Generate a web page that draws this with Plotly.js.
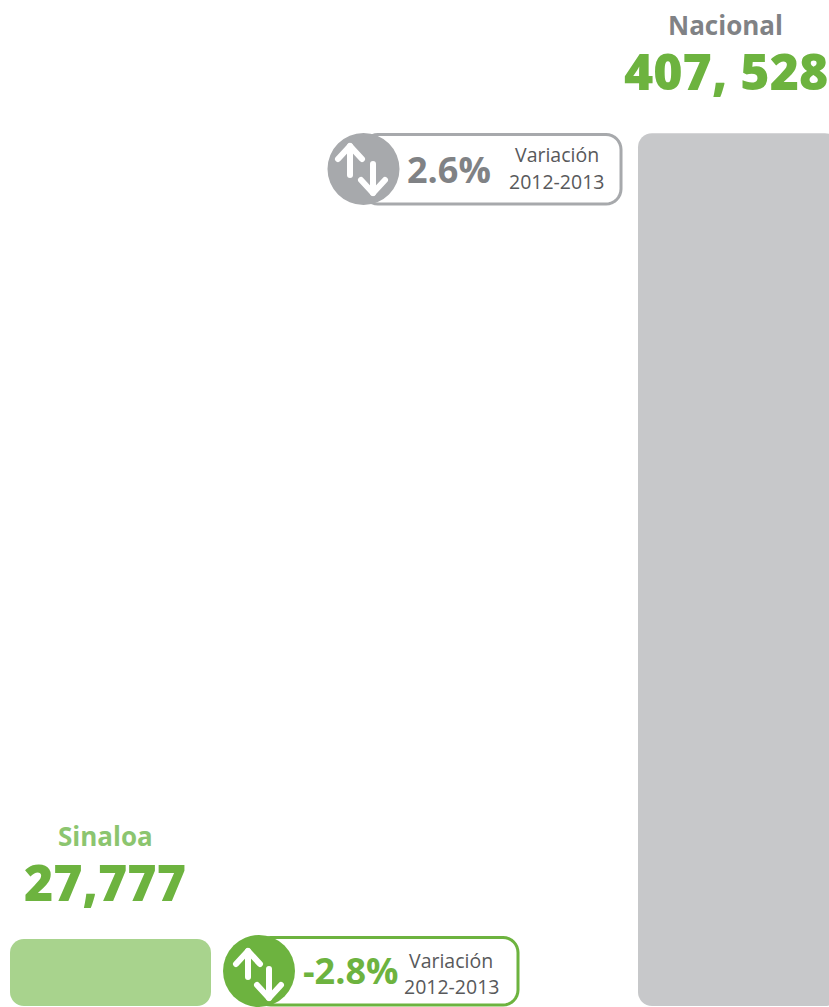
<!DOCTYPE html>
<html><head><meta charset="utf-8">
<script src="https://cdn.plot.ly/plotly-3.0.1.min.js"></script>
<style>html,body{margin:0;padding:0;background:#fff;overflow:hidden}#c{width:829px;height:1007px}</style>
</head><body><div id="c"></div>
<script>
const categories = ['Sinaloa', 'Nacional'];
const totals = ['27,777', '407, 528'];
// Bar lengths as drawn in the picture (the source graphic is not strictly to scale for Sinaloa).
const barLengths = [31280, 407528];
const barBases = [0, 0];
const variations = ['-2.8%', '2.6%'];
const variationLabel = 'Variación';
const periodLabel = '2012-2013';
const barColors = ['#a8d38d', '#c7c8ca'];
const nameColors = ['#8cc56f', '#808285'];
const accentColors = ['#6db33f', '#a7a9ac'];
const variationColors = ['#6db33f', '#808285'];
const totalColor = '#6db33f';

const W = 829, H = 1007;
const px = x => (x / W).toFixed(5), py = y => (1 - y / H).toFixed(5);

const barWidth = 201 / 628;
// An explicit base makes Plotly round both ends of each bar.
const bars = {type:'bar', x:categories, y:barLengths, base:barBases,
  marker:{color:barColors, cornerradius:14, line:{width:0}}, width:barWidth, hoverinfo:'skip'};

function roundRect(x0,y0,x1,y1,r){
  const n=8, pts=[];
  [[x1-r,y0+r,-90],[x1-r,y1-r,0],[x0+r,y1-r,90],[x0+r,y0+r,180]].forEach(([cx,cy,a])=>{
    for(let i=0;i<=n;i++){const t=(a+90*i/n)*Math.PI/180;pts.push([cx+r*Math.cos(t),cy+r*Math.sin(t)]);}
  });
  return 'M'+pts.map(p=>px(p[0])+','+py(p[1])).join('L')+'Z';
}
const line = pts => 'M'+pts.map(p=>px(p[0])+','+py(p[1])).join('L');
const whiteLine = {color:'#fff', width:6};
function badge(color, box, c, up, down){
  return [
    {type:'path', xref:'paper', yref:'paper', path:roundRect(box[0],box[1],box[2],box[3],15), fillcolor:'#fff', line:{color:color,width:3}},
    {type:'circle', xref:'paper', yref:'paper', x0:px(c[0]-c[2]), x1:px(c[0]+c[2]), y0:py(c[1]+c[2]), y1:py(c[1]-c[2]), fillcolor:color, line:{width:0}},
    {type:'path', xref:'paper', yref:'paper', path:line([[up[0],up[2]],[up[0],up[1]]]), line:whiteLine},
    {type:'path', xref:'paper', yref:'paper', path:line([[up[0]-12,up[1]+13],[up[0],up[1]],[up[0]+12,up[1]+13]]), line:whiteLine},
    {type:'path', xref:'paper', yref:'paper', path:line([[down[0],down[1]],[down[0],down[2]]]), line:whiteLine},
    {type:'path', xref:'paper', yref:'paper', path:line([[down[0]-12,down[2]-13],[down[0],down[2]],[down[0]+12,down[2]-13]]), line:whiteLine}
  ];
}
const shapes = [
  ...badge(accentColors[1],[363,134.5,621,204],[363.5,169,36],[350,146,175],[373,164,193]),
  ...badge(accentColors[0],[256,937.5,518,1005],[259,971,36],[248,951,977],[269,969,998])
];
function label(text,x,y,size,color,weight){
  return {xref:'paper',yref:'paper',x:+px(x),y:+py(y),xanchor:'center',yanchor:'middle',showarrow:false,text:text,
    font:{family:'"Open Sans", sans-serif',size:size,color:color,weight:weight||400}};
}
const annotations = [
  label(categories[1],726,25,26,nameColors[1],700),
  label(totals[1],726,71,50,totalColor,800),
  label(categories[0],105,836,26,nameColors[0],700),
  label(totals[0],105.5,882,50,totalColor,800),
  label(variations[1],449,169,36,variationColors[1],700),
  label(variationLabel,557,155,19.5,'#58595b'),
  label(periodLabel,557,182,19.5,'#58595b'),
  label(variations[0],350,970,36,variationColors[0],700),
  label(variationLabel,451,960,19.5,'#58595b'),
  label(periodLabel,451,986,19.5,'#58595b')
];
const layout = {
  width:W, height:H, margin:{l:0,r:0,t:0,b:0}, showlegend:false, barmode:'overlay',
  paper_bgcolor:'#fff', plot_bgcolor:'#fff', hovermode:false,
  xaxis:{type:'category', categoryorder:'array', categoryarray:categories, range:[-110.5/628,718.5/628], visible:false, fixedrange:true},
  yaxis:{range:[-467,469700], visible:false, fixedrange:true},
  shapes:shapes, annotations:annotations
};
Plotly.newPlot('c',[bars],layout,{displayModeBar:false,staticPlot:true}).then(()=>{
  document.querySelectorAll('#c .shapelayer path').forEach(p=>{p.style.strokeLinecap='round';p.style.strokeLinejoin='round';});
});
</script></body></html>
